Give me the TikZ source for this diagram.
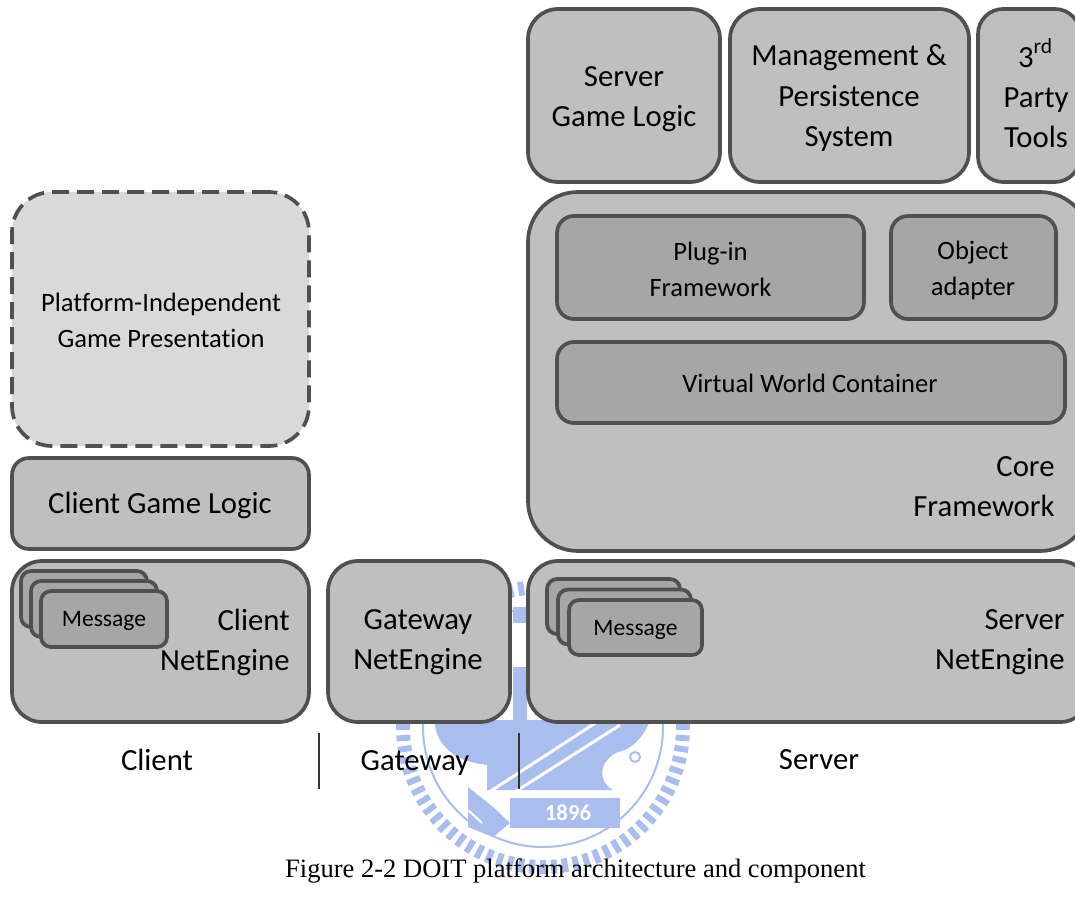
\documentclass[tikz,border=0pt]{standalone}
\usepackage{fontspec}
\usetikzlibrary{calc}
\setmainfont[Ligatures=CommonOff]{Carlito}
\newfontfamily\captionfont{Liberation Serif}
\definecolor{boxline}{HTML}{505050}
\definecolor{boxfill}{HTML}{BFBFBF}
\definecolor{innerfill}{HTML}{A6A6A6}
\definecolor{presfill}{HTML}{D9D9D9}
\definecolor{sealblue}{HTML}{A9BDEE}
\tikzset{
	box/.style={draw=boxline, fill=boxfill, line width=0.037cm, inner sep=0pt, rounded corners=#1},
	box/.default=0.3cm,
	innerbox/.style={box=0.17cm, fill=innerfill},
	msgbox/.style={box=0.1cm, fill=innerfill},
	biglabel/.style={align=center, font=\fontsize{8.75}{11.4}\selectfont},
	smalllabel/.style={align=center, font=\fontsize{7.55}{10.2}\selectfont},
}

\begin{document}
\begin{tikzpicture}
			%%%%% SEAL %%%%%
			\clip (0, 0) rectangle (10.75, 9);
			\fill[white] (0, 0) rectangle (10.75, 9);
			
			\foreach \a in {0,4.5,...,355.5}
				\draw[line width=0.06cm, color=sealblue] ($(5.43, 1.73)+(\a:1.33)$) -- ($(5.43, 1.73)+(\a:1.47)$);
			\draw[line width=0.02cm, color=sealblue] (5.43, 1.73) circle (1.2);
			
			\fill[sealblue] (4.35, 1.8) -- (4.35, 1.73) .. controls (4.4, 1.5) and (4.6, 1.38) .. (4.87, 1.35) -- (4.87, 1.1) -- (6.13, 1.1) .. controls (5.95, 1.2) and (6, 1.45) .. (6.25, 1.5) .. controls (6.35, 1.55) and (6.45, 1.65) .. (6.5, 1.8) -- cycle;
			\fill[sealblue] (5.13, 2.33) rectangle (5.27, 1.77);
			\fill[sealblue] (5.13, 2.93) rectangle (5.27, 2.77);
			\draw[line width=0.03cm, color=white] (4.8, 1.02) -- (6, 1.8);
			\draw[line width=0.03cm, color=white] (5.1, 1.05) -- (6.2, 1.75);
			\fill[sealblue] (4.68, 1.13) -- (4.68, 0.73) -- (4.93, 0.63) -- (5.1, 0.77) -- (4.93, 0.93) -- cycle;
			\draw[line width=0.02cm, color=white] (4.68, 0.9) -- (4.82, 0.77);
			\fill[sealblue] (5.1, 1.02) rectangle (6.2, 0.72);
			\draw[line width=0.02cm, color=sealblue] (6.35, 1.43) circle (0.05);
			\node[color=white, font=\fontsize{6.5}{8}\bfseries\selectfont] (year) at (5.68, 0.87) {1896};
			
			%%%%% TOP ROW %%%%%
			\node[box, minimum width=1.92cm, minimum height=1.73cm] (serverlogic) at (6.24, 8.045) {};
			\node[box, minimum width=2.39cm, minimum height=1.73cm] (management) at (8.495, 8.045) {};
			\node[box=0.25cm, minimum width=1.02cm, minimum height=1.73cm] (tools) at (10.29, 8.045) {};
			\node[biglabel] (serverlogiclabel) at (6.24, 8.01) {Server\\Game Logic};
			\node[biglabel] (managementlabel) at (8.49, 8.02) {Management \&\\Persistence\\System};
			\node[biglabel] (toolslabel) at (10.36, 8.07) {3\textsuperscript{rd}\\Party\\Tools};
			
			%%%%% CORE %%%%%
			\node[box=0.5cm, minimum width=5.62cm, minimum height=3.59cm] (core) at (8.09, 5.285) {};
			\node[innerbox, minimum width=3.07cm, minimum height=1.03cm] (plugin) at (7.105, 6.325) {};
			\node[innerbox, minimum width=1.65cm, minimum height=1.03cm] (adapter) at (9.735, 6.325) {};
			\node[innerbox, minimum width=5.08cm, minimum height=0.81cm] (world) at (8.11, 5.175) {};
			\node[smalllabel] (pluginlabel) at (7.105, 6.31) {Plug-in\\Framework};
			\node[smalllabel] (adapterlabel) at (9.73, 6.3) {Object\\adapter};
			\node[smalllabel] (worldlabel) at (8.1, 5.17) {Virtual World Container};
			\node[biglabel, align=right, anchor=east] (corelabel) at (10.67, 4.13) {Core\\Framework};
			
			%%%%% CLIENT %%%%%
			\node[box=0.4cm, dash pattern=on 0.17cm off 0.08cm, fill=presfill, minimum width=2.97cm, minimum height=2.54cm] (presentation) at (1.605, 5.81) {};
			\node[smalllabel] (presentationlabel) at (1.61, 5.8) {Platform-Independent\\Game Presentation};
			\node[box=0.17cm, minimum width=2.97cm, minimum height=0.91cm] (clientlogic) at (1.605, 3.965) {};
			\node[biglabel] (clientlogiclabel) at (1.6, 3.95) {Client Game Logic};
			
			%%%%% NETENGINES %%%%%
			\node[box, minimum width=2.97cm, minimum height=1.61cm] (clientnet) at (1.605, 2.585) {};
			\node[box, minimum width=1.82cm, minimum height=1.61cm] (gatewaynet) at (4.19, 2.585) {};
			\node[box, minimum width=5.62cm, minimum height=1.61cm] (servernet) at (8.09, 2.585) {};
			\node[biglabel, align=right, anchor=east] (clientnetlabel) at (3.02, 2.58) {Client\\NetEngine};
			\node[biglabel] (gatewaynetlabel) at (4.18, 2.58) {Gateway\\NetEngine};
			\node[biglabel, align=right, anchor=east] (servernetlabel) at (10.77, 2.58) {Server\\NetEngine};
			
			\foreach \i/\x/\y in {1/0.84/3.01, 2/0.94/2.91, 3/1.04/2.81}
				\node[msgbox, minimum width=1.26cm, minimum height=0.56cm] (clientmsg\i) at (\x, \y) {};
			\foreach \i/\x/\y in {1/6.135/2.935, 2/6.245/2.83, 3/6.355/2.725}
				\node[msgbox, minimum width=1.33cm, minimum height=0.55cm] (servermsg\i) at (\x, \y) {};
			\node[font=\fontsize{6.7}{8}\selectfont] (clientmsglabel) at ($(clientmsg3)+(0, -0.02)$) {Message};
			\node[font=\fontsize{6.7}{8}\selectfont] (servermsglabel) at ($(servermsg3)+(0, -0.02)$) {Message};
			
			%%%%% BOTTOM %%%%%
			\coordinate (sepatop) at (3.19, 1.67);
			\coordinate (sepabot) at (3.19, 1.11);
			\coordinate (sepbtop) at (5.19, 1.67);
			\coordinate (sepbbot) at (5.19, 1.11);
			\draw[line width=0.012cm, color=black!80] (sepatop) -- (sepabot);
			\draw[line width=0.012cm, color=black!80] (sepbtop) -- (sepbbot);
			
			\node[biglabel] (clientlabel) at (1.57, 1.4) {Client};
			\node[biglabel] (gatewaylabel) at (4.15, 1.37) {Gateway};
			\node[biglabel] (serverlabel) at (8.19, 1.4) {Server};
			
			\node[font=\fontsize{7.55}{8}\captionfont] (caption) at (5.755, 0.29) {Figure 2-2 DOIT platform architecture and component};
			
			%%%%% END %%%%%
		\end{tikzpicture}
\end{document}
